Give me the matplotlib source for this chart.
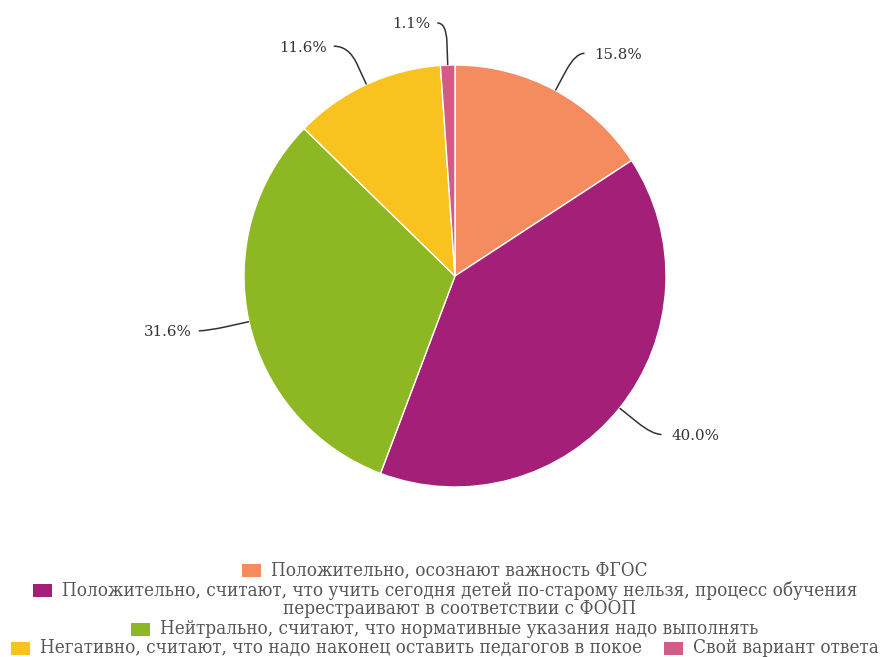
import numpy as np
import matplotlib
matplotlib.use("Agg")
import matplotlib.pyplot as plt
from matplotlib.patches import Rectangle, PathPatch
from matplotlib.path import Path

categories = [
    "Положительно, осознают важность ФГОС",
    "Положительно, считают, что учить сегодня детей по-старому нельзя, процесс обучения\nперестраивают в соответствии с ФООП",
    "Нейтрально, считают, что нормативные указания надо выполнять",
    "Негативно, считают, что надо наконец оставить педагогов в покое",
    "Свой вариант ответа",
]
values = [15.8, 40.0, 31.6, 11.6, 1.1]
labels = ["15.8%", "40.0%", "31.6%", "11.6%", "1.1%"]
colors = ["#F58C5F", "#A41F78", "#8DB823", "#F9C31F", "#D05C87"]

W, H = 880, 657
fig = plt.figure(figsize=(W / 100, H / 100), dpi=100)
cx, cy, R = 455, 276, 211
ax = fig.add_axes([(cx - R) / W, (H - cy - R) / H, 2 * R / W, 2 * R / H])
wedges, _ = ax.pie(values, colors=colors, startangle=90, counterclock=False,
                   radius=1.0, wedgeprops=dict(edgecolor="white", linewidth=1.0))
ax.set_xlim(-1, 1)
ax.set_ylim(-1, 1)
ax.set_aspect("equal")
ax.axis("off")

px = 1.0 / R  # one pixel in data units
label_font = dict(family="DejaVu Serif", fontsize=10.8, color="#333333")
# second (horizontal) leader segment length per label, in pixels
len2 = [9, 9, 9, 15, 9]
total = sum(values)
cum = 0.0
for i, v in enumerate(values):
    mid = 90 - 360 * (cum + v / 2) / total
    cum += v
    a = np.deg2rad(mid)
    d = np.array([np.cos(a), np.sin(a)])
    p0 = d * 1.0
    p1 = d * 1.2
    right = d[0] >= 0
    sgn = 1 if right else -1
    p2 = p1 + np.array([sgn * len2[i] * px, 0])
    pa = p0 + 0.55 * (p1 - p0)
    path = Path([p0, pa, p1, p2], [Path.MOVETO, Path.LINETO, Path.CURVE3, Path.CURVE3])
    ax.add_patch(PathPatch(path, facecolor="none", edgecolor="#333333", lw=1.1,
                           clip_on=False))
    gap = 10 if right else 7
    ax.text(p2[0] + sgn * gap * px, p2[1] - 1.5 * px, labels[i],
            ha="left" if right else "right",
            va="center", clip_on=False, **label_font)

# legend drawn manually, centered rows
leg_font = dict(family="DejaVu Serif", fontstretch="condensed", fontsize=13.5, color="#555555")
rows = [[0], [1], [2], [3, 4]]
row_y = [570, 590, 629, 648]
line_h = 19
box_w, box_h = 19, 13
gap_box = 10
gap_item = 22
leg_cx = 445
renderer = fig.canvas.get_renderer()
for ridx, row in enumerate(rows):
    items = []
    for k in row:
        t = fig.text(0, 0, categories[k], **leg_font, ha="center", va="center",
                     multialignment="center", linespacing=1.0)
        bb = t.get_window_extent(renderer)
        items.append((k, t, bb.width))
    total_w = sum(box_w + gap_box + w for _, _, w in items) + gap_item * (len(items) - 1)
    x = leg_cx - total_w / 2
    y = row_y[ridx]
    for k, t, w in items:
        nlines = categories[k].count("\n") + 1
        ytxt = y + (nlines - 1) * line_h / 2
        fig.patches.append(Rectangle((x / W, (H - y - box_h / 2) / H), box_w / W, box_h / H,
                                     transform=fig.transFigure, facecolor=colors[k],
                                     edgecolor="none"))
        t.set_position(((x + box_w + gap_box + w / 2) / W, (H - ytxt) / H))
        x += box_w + gap_box + w + gap_item

fig.savefig("out.png", dpi=100, facecolor="white")
